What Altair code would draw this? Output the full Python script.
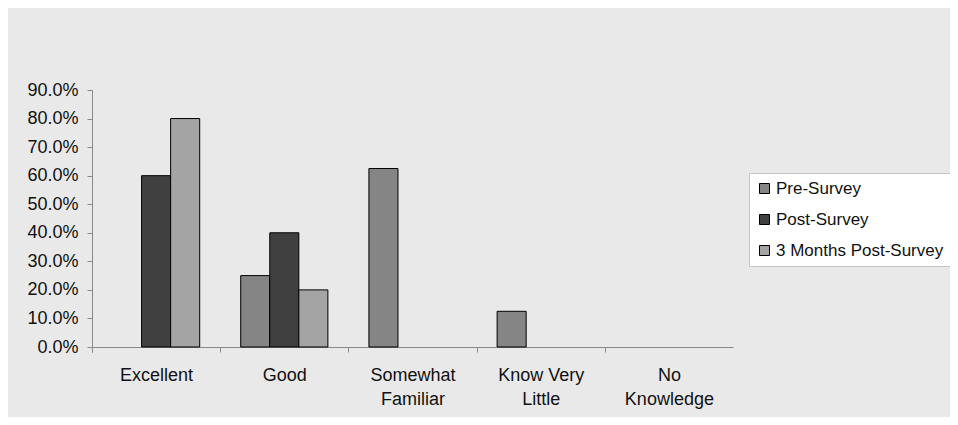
import altair as alt
import pandas as pd

categories = ["Excellent", "Good", "Somewhat Familiar", "Know Very Little", "No Knowledge"]
series = ["Pre-Survey", "Post-Survey", "3 Months Post-Survey"]
pre_survey = [0.0, 0.25, 0.625, 0.125, 0.0]
post_survey = [0.60, 0.40, 0.0, 0.0, 0.0]
three_months = [0.80, 0.20, 0.0, 0.0, 0.0]
colors = ["#858585", "#404040", "#a4a4a4"]
y_ticks = [0.0, 0.1, 0.2, 0.3, 0.4, 0.5, 0.6, 0.7, 0.8, 0.9]

rows = []
for s, vals in zip(series, [pre_survey, post_survey, three_months]):
    for c, v in zip(categories, vals):
        rows.append({"category": c, "series": s, "value": v})
df = pd.DataFrame(rows)

label_expr = (
    "datum.value == 'Somewhat Familiar' ? ['Somewhat', 'Familiar'] : "
    "datum.value == 'Know Very Little' ? ['Know Very', 'Little'] : "
    "datum.value == 'No Knowledge' ? ['No', 'Knowledge'] : datum.value"
)

W, H = 641, 257
FONT = "Liberation Sans"
FS = 18
STEP = W / len(categories)
PAD_IN = 0.32
TICK_SHIFT = -STEP * PAD_IN / 2

bars = (
    alt.Chart(df)
    .transform_filter("datum.value > 0")
    .mark_bar(stroke="black", strokeWidth=1)
    .encode(
        x=alt.X(
            "category:N",
            sort=categories,
            scale=alt.Scale(domain=categories, paddingInner=PAD_IN, paddingOuter=PAD_IN / 2),
            axis=alt.Axis(
                title=None,
                labelAngle=0,
                bandPosition=0,
                tickOffset=TICK_SHIFT,
                tickExtra=True,
                labelOffset=-TICK_SHIFT,
                labelExpr=label_expr,
                labelFontSize=FS,
                labelFont=FONT,
                labelColor="#111111",
                labelPadding=14,
                labelLineHeight=24,
                labelBaseline="top",
                tickSize=5,
                tickColor="#8a8a8a",
                domainColor="#8a8a8a",
            ),
        ),
        xOffset=alt.XOffset(
            "series:N",
            sort=series,
            scale=alt.Scale(domain=series, paddingInner=0, paddingOuter=0),
        ),
        y=alt.Y(
            "value:Q",
            scale=alt.Scale(domain=[0, 0.9], nice=False),
            axis=alt.Axis(
                title=None,
                format=".1%",
                values=y_ticks,
                grid=False,
                labelFontSize=FS,
                labelFont=FONT,
                labelColor="#111111",
                labelPadding=9,
                tickSize=5,
                tickColor="#8a8a8a",
                domainColor="#8a8a8a",
            ),
        ),
        color=alt.Color(
            "series:N",
            sort=series,
            scale=alt.Scale(domain=series, range=colors),
            legend=alt.Legend(
                title=None,
                orient="none",
                legendX=657,
                legendY=83,
                fillColor="white",
                strokeColor="#c4c4c4",
                padding=7,
                symbolType="square",
                symbolSize=100,
                symbolStrokeColor="black",
                symbolStrokeWidth=1,
                labelOffset=3,
                labelFontSize=17,
                labelFont=FONT,
                labelColor="#111111",
                labelLimit=400,
                rowPadding=13,
            ),
        ),
    )
)

chart = (
    bars.properties(
        width=W,
        height=H,
        background="#e9e9e9",
        padding={"left": 84, "top": 82, "right": 217, "bottom": 70},
        autosize=alt.AutoSizeParams(type="none"),
    )
    .configure_view(stroke=None)
)

chart.save("out.html", embed_options={"renderer": "svg", "actions": False})
